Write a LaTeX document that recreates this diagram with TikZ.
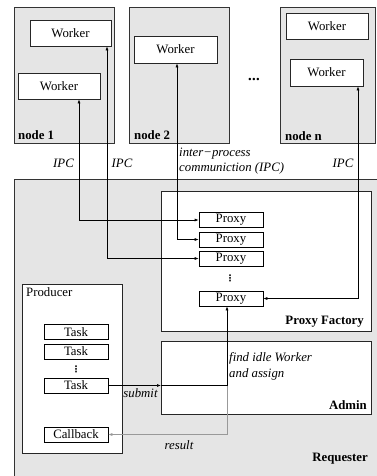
\documentclass[tikz,border=0pt]{standalone}
\usepackage{fontspec}
\setmainfont{Liberation Serif}
\newfontfamily\marksfont{DejaVu Sans}
\usetikzlibrary{arrows.meta,calc}
\begin{document}
\begin{tikzpicture}[x=1pt,y=-1pt,
  font=\fontsize{12.8}{15.5}\selectfont,
  hostbox/.style={draw=black!80,line width=0.8pt,fill=gray!20,anchor=north west,inner sep=0pt},
  panel/.style={draw=black!85,line width=0.8pt,fill=white,anchor=north west,inner sep=0pt},
  worker/.style={draw=black!85,line width=0.7pt,fill=white,inner sep=0pt,minimum height=26pt},
  item/.style={draw=black,line width=0.6pt,fill=white,inner sep=0pt,minimum width=64pt,minimum height=15pt},
  boxlabel/.style={font=\fontsize{12.8}{15.5}\selectfont\bfseries,inner sep=0pt},
  note/.style={font=\fontsize{12.8}{15.5}\selectfont\itshape,inner sep=0pt},
  tipend/.style={-{Latex[length=4pt,width=3pt]},line width=0.6pt},
  ipc/.style={{Latex[length=4pt,width=3pt]}-{Latex[length=4pt,width=3pt]},line width=0.6pt},
  reply/.style={-{Latex[length=4pt,width=3pt]},line width=0.6pt,draw=gray!80},
  vdotsmark/.style={inner sep=0pt,font=\marksfont\bfseries\fontsize{9}{9}\selectfont}
]
\useasboundingbox (0,0) rectangle (376,476);

% worker hosts
\node[hostbox,minimum width=100pt,minimum height=136pt] (n1) at (14,7) {};
\node[hostbox,minimum width=100pt,minimum height=136pt] (n2) at (129,7) {};
\node[hostbox,minimum width=95pt,minimum height=136pt] (nn) at (280,7) {};

\node[worker,minimum width=81pt] (w1a) at (70.5,33) {Worker};
\node[worker,minimum width=82pt] (w1b) at (59,86) {Worker};
\node[worker,minimum width=83pt,minimum height=27pt] (w2) at (175.5,49.5) {Worker};
\node[worker,minimum width=82pt] (wna) at (327,26) {Worker};
\node[worker,minimum width=73pt,minimum height=27pt] (wnb) at (326.5,72.5) {Worker};

\node[boxlabel,anchor=base west] (l1) at (18,139.5) {node 1};
\node[boxlabel,anchor=base west] (l2) at (134,139.5) {node 2};
\node[boxlabel,anchor=base west] (ln) at (285,140) {node n};
\node[inner sep=0pt,font=\fontsize{9}{9}\selectfont\bfseries] (hdots) at (254,80) {•\kern0.8pt•\kern0.8pt•};

% requester side
\node[hostbox,minimum width=390pt,minimum height=320pt] (req) at (14,179) {};
\node[panel,minimum width=210pt,minimum height=140pt] (pf) at (161,191) {};
\node[panel,minimum width=210pt,minimum height=73pt] (admin) at (161,341) {};
\node[panel,minimum width=100pt,minimum height=169pt] (prod) at (22,284) {};

\node[item] (p1) at (231,220) {Proxy};
\node[item] (p2) at (231,239.5) {Proxy};
\node[item] (p3) at (231,258.5) {Proxy};
\node[vdotsmark] (pdots) at (230,278) {⋮};
\node[item] (p4) at (231,298.5) {Proxy};

\node[item] (t1) at (76,332) {Task};
\node[item] (t2) at (76,351.5) {Task};
\node[vdotsmark] (tdots) at (76,369) {⋮};
\node[item] (t3) at (76,385.5) {Task};
\node[item] (cb) at (76,434.5) {Callback};

\node[anchor=base west,inner sep=0pt] (lprod) at (26,296) {Producer};
\node[boxlabel,anchor=base east] (lpf) at (364,324.5) {Proxy Factory};
\node[boxlabel,anchor=base east] (ladmin) at (367,409) {Admin};
\node[boxlabel,anchor=base east] (lreq) at (368,461) {Requester};

% inter-process links
\draw[ipc] (p1.west) -| (w1b.south -| 79,0);
\draw[ipc] (p2.west) -| (w2.south -| 177,0);
\draw[ipc] (p3.west) -| (w1a.south -| 107,0);
\draw[ipc] (p4.east) -| (wnb.south -| 358,0);

\node[note,anchor=base] (ipc1) at (63.5,167.5) {IPC};
\node[note,anchor=base] (ipc2) at (122,167.5) {IPC};
\node[note,anchor=base] (ipc3) at (343,167.5) {IPC};
\node[note,anchor=base west] (ipcA) at (179,156) {inter−process};
\node[note,anchor=base west] (ipcB) at (179,171) {communiction (IPC)};

% submit and result
\coordinate (sub) at (admin.west |- t3.east);
\coordinate (turn) at (227,385.5);
\draw[tipend] (t3.east) -- (sub);
\draw[tipend] (sub) -- (turn) -- (p4.south -| turn);
\draw[reply] (turn) |- (cb.east -| 227,0) -- (cb.east);

\node[note,anchor=base] (lsubmit) at (140.5,397) {submit};
\node[note,anchor=base] (lresult) at (179,449) {result};
\node[note,anchor=base west] (lfind) at (229,361) {find idle Worker};
\node[note,anchor=base west] (lassign) at (229,377) {and assign};
\end{tikzpicture}
\end{document}
